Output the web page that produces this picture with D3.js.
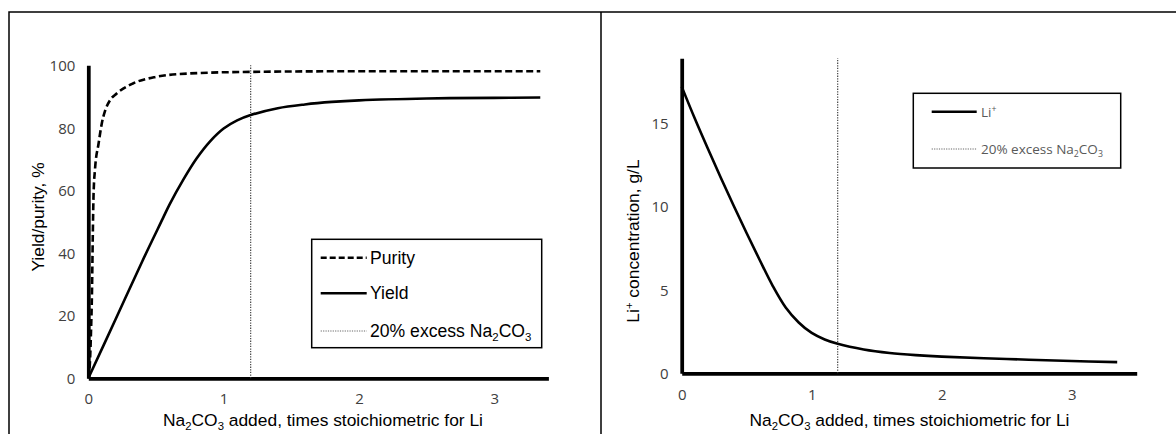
<!DOCTYPE html>
<html>
<head>
<meta charset="utf-8">
<script src="https://cdn.jsdelivr.net/npm/d3@7"></script>
<style>
  body { margin: 0; background: #fff; }
  svg { display: block; }
</style>
</head>
<body>
<div id="chart"></div>
<script>
// values
const purityX = [0, 0.012, 0.02, 0.027, 0.033, 0.039, 0.05, 0.076, 0.1, 0.125, 0.16, 0.21, 0.33, 0.5, 0.75, 1.2, 2.0, 3.34]
const purity  = [0, 5, 15, 27, 45, 59, 67, 75, 81.5, 85.6, 88.8, 91, 94.2, 96.3, 97.4, 97.9, 98.1, 98.1]

const yieldX = [0, 0.2, 0.4, 0.55, 0.6, 0.7, 0.8, 0.9, 1.0, 1.1, 1.2, 1.4, 1.6, 1.8, 2.0, 2.5, 3.0, 3.34]
const yieldV = [0, 18.7, 37.5, 51, 55.5, 63.3, 70.2, 75.7, 79.8, 82.4, 84.1, 86.3, 87.5, 88.3, 88.8, 89.4, 89.6, 89.7]

const liX = [0, 0.1, 0.2, 0.3, 0.4, 0.5, 0.6, 0.7, 0.8, 0.9, 1.0, 1.1, 1.2, 1.4, 1.6, 1.8, 2.0, 2.5, 3.0, 3.35]
const liV = [17.2, 15.3, 13.5, 11.75, 10.05, 8.4, 6.8, 5.25, 3.95, 3.05, 2.42, 2.03, 1.77, 1.43, 1.22, 1.09, 1.0, 0.86, 0.74, 0.67]

const excess = 1.2
const leftXTicks = [0, 1, 2, 3]
const leftYTicks = [0, 20, 40, 60, 80, 100]
const rightXTicks = [0, 1, 2, 3]
const rightYTicks = [0, 5, 10, 15]

const xTitle = [["Na"], ["2", "sub"], ["CO"], ["3", "sub"], [" added, times stoichiometric for Li"]]
const excessLabel = [["20% excess Na"], ["2", "sub"], ["CO"], ["3", "sub"]]

const W = 1176, H = 434
const svg = d3.select("#chart").append("svg")
    .attr("width", W)
    .attr("height", H)

// frame round the two panels
svg.append("path")
    .attr("d", `M9,${H}V12H${W}M601,12V${H}`)
    .attr("fill", "none")
    .attr("stroke", "#000")
    .attr("stroke-width", 1.5)

// text with sub / superscripts
function rich(sel, parts, size) {
    parts.forEach(([t, kind]) => {
        const ts = sel.append("tspan").text(t)
        if (kind === "sub") ts.attr("font-size", size * 0.65).attr("dy", size * 0.22)
        else if (kind === "sup") ts.attr("font-size", size * 0.65).attr("dy", -size * 0.38)
        else if (ts.node().previousSibling) {
            const pk = d3.select(ts.node().previousSibling).attr("data-k")
            ts.attr("dy", pk === "sub" ? -size * 0.22 : pk === "sup" ? size * 0.38 : 0)
        }
        ts.attr("data-k", kind || "")
    })
    return sel
}

function panel(g, cfg) {
    const x = d3.scaleLinear().domain(cfg.xDomain).range(cfg.xRange)
    const y = d3.scaleLinear().domain(cfg.yDomain).range(cfg.yRange)

    const yAxis = d3.axisLeft(y).tickValues(cfg.yTicks).tickSize(0).tickPadding(13).tickSizeOuter(0)
        .tickFormat(d3.format("d"))
    const xAxis = d3.axisBottom(x).tickValues(cfg.xTicks).tickSize(0).tickPadding(cfg.xPad).tickSizeOuter(0)
        .tickFormat(d3.format("d"))

    const xg = g.append("g")
        .attr("transform", `translate(0,${cfg.yRange[0]})`)
        .call(xAxis)
    const yg = g.append("g")
        .attr("transform", `translate(${cfg.xRange[0]},0)`)
        .call(yAxis)

    ;[xg, yg].forEach(a => {
        a.select(".domain").attr("stroke", "#000").attr("stroke-width", 3.75)
        a.selectAll("text")
            .attr("font-family", "'Open Sans', sans-serif")
            .attr("font-size", 15)
            .attr("fill", "#404040")
    })
    yg.selectAll("text").attr("dy", "0.34em")

    const line = d3.line()
        .x(d => x(d[0]))
        .y(d => y(d[1]))

    // 20 % excess marker
    g.append("path")
        .attr("d", line([[excess, 0], [excess, cfg.yDomain[1]]]))
        .attr("fill", "none")
        .attr("stroke", "#333")
        .attr("stroke-width", 1.1)
        .attr("stroke-dasharray", "1.3,1.3")

    cfg.series.forEach(s => {
        g.append("path")
            .attr("d", line.curve(s.curve)(d3.zip(s.x, s.v)))
            .attr("fill", "none")
            .attr("stroke", "#000")
            .attr("stroke-width", 2.6)
            .attr("stroke-dasharray", s.dash || null)
    })

    // axis titles
    const ts = 17.4
    rich(g.append("text")
        .attr("x", cfg.xTitlePos[0])
        .attr("y", cfg.xTitlePos[1] + 6)
        .attr("text-anchor", "middle")
        .attr("font-family", "'Liberation Sans', Arial, sans-serif")
        .attr("font-size", ts)
        .attr("fill", "#000"), xTitle, ts)

    rich(g.append("text")
        .attr("transform", `translate(${cfg.yTitlePos[0]},${cfg.yTitlePos[1]}) rotate(-90)`)
        .attr("y", 6)
        .attr("text-anchor", "middle")
        .attr("font-family", "'Liberation Sans', Arial, sans-serif")
        .attr("font-size", ts)
        .attr("fill", "#000"), cfg.yTitle, ts)
}

// left panel: yield and purity
const left = svg.append("g")
panel(left, {
    xDomain: [0, 3.4], xRange: [88.3, 548.4],
    yDomain: [0, 100], yRange: [378.3, 65.3],
    xTicks: leftXTicks, yTicks: leftYTicks, xPad: 15,
    series: [
        { x: purityX, v: purity, dash: "7,3.5", curve: d3.curveMonotoneX },
        { x: yieldX, v: yieldV, curve: d3.curveCatmullRom.alpha(0.5) }
    ],
    xTitlePos: [323, 420],
    yTitlePos: [38.3, 217],
    yTitle: [["Yield/purity, %"]]
})

// left legend
const lg = left.append("g")
lg.append("rect")
    .attr("x", 311.7).attr("y", 239.3)
    .attr("width", 230).attr("height", 108.4)
    .attr("fill", "#fff").attr("stroke", "#000").attr("stroke-width", 1.5)
const leftItems = [
    { label: [["Purity"]], y: 257.7, dash: "6,3", w: 2.6, c: "#000" },
    { label: [["Yield"]], y: 293.3, dash: null, w: 2.6, c: "#000" },
    { label: excessLabel, y: 331, dash: "1.2,1.2", w: 1, c: "#666" }
]
leftItems.forEach(it => {
    lg.append("line")
        .attr("x1", 320.7).attr("x2", 366.7)
        .attr("y1", it.y).attr("y2", it.y)
        .attr("stroke", it.c).attr("stroke-width", it.w)
        .attr("stroke-dasharray", it.dash)
    rich(lg.append("text")
        .attr("x", 370).attr("y", it.y + 6)
        .attr("font-family", "'Liberation Sans', Arial, sans-serif")
        .attr("font-size", 17.6)
        .attr("fill", "#000"), it.label, 17.6)
})

// right panel: Li+ left in solution
const right = svg.append("g")
panel(right, {
    xDomain: [0, 3.5], xRange: [681.7, 1136.7],
    yDomain: [0, 18.9], yRange: [373.3, 58.3],
    xTicks: rightXTicks, yTicks: rightYTicks, xPad: 16,
    series: [{ x: liX, v: liV, curve: d3.curveCatmullRom.alpha(0.5) }],
    xTitlePos: [909.5, 420],
    yTitlePos: [633.3, 241],
    yTitle: [["Li"], ["+", "sup"], [" concentration, g/L"]]
})

const rg = right.append("g")
rg.append("rect")
    .attr("x", 913.3).attr("y", 93.3)
    .attr("width", 207.4).attr("height", 74.7)
    .attr("fill", "#fff").attr("stroke", "#000").attr("stroke-width", 1.5)
const rightItems = [
    { label: [["Li"], ["+", "sup"]], y: 111.7, dash: null, w: 2.6, c: "#000" },
    { label: excessLabel, y: 149, dash: "1.2,1.2", w: 1, c: "#666" }
]
rightItems.forEach(it => {
    rg.append("line")
        .attr("x1", 931.7).attr("x2", 976.7)
        .attr("y1", it.y).attr("y2", it.y)
        .attr("stroke", it.c).attr("stroke-width", it.w)
        .attr("stroke-dasharray", it.dash)
    rich(rg.append("text")
        .attr("x", 981).attr("y", it.y + 5)
        .attr("font-family", "'Open Sans', sans-serif")
        .attr("font-size", 13.5)
        .attr("fill", "#595959"), it.label, 13.5)
})
</script>
</body>
</html>
